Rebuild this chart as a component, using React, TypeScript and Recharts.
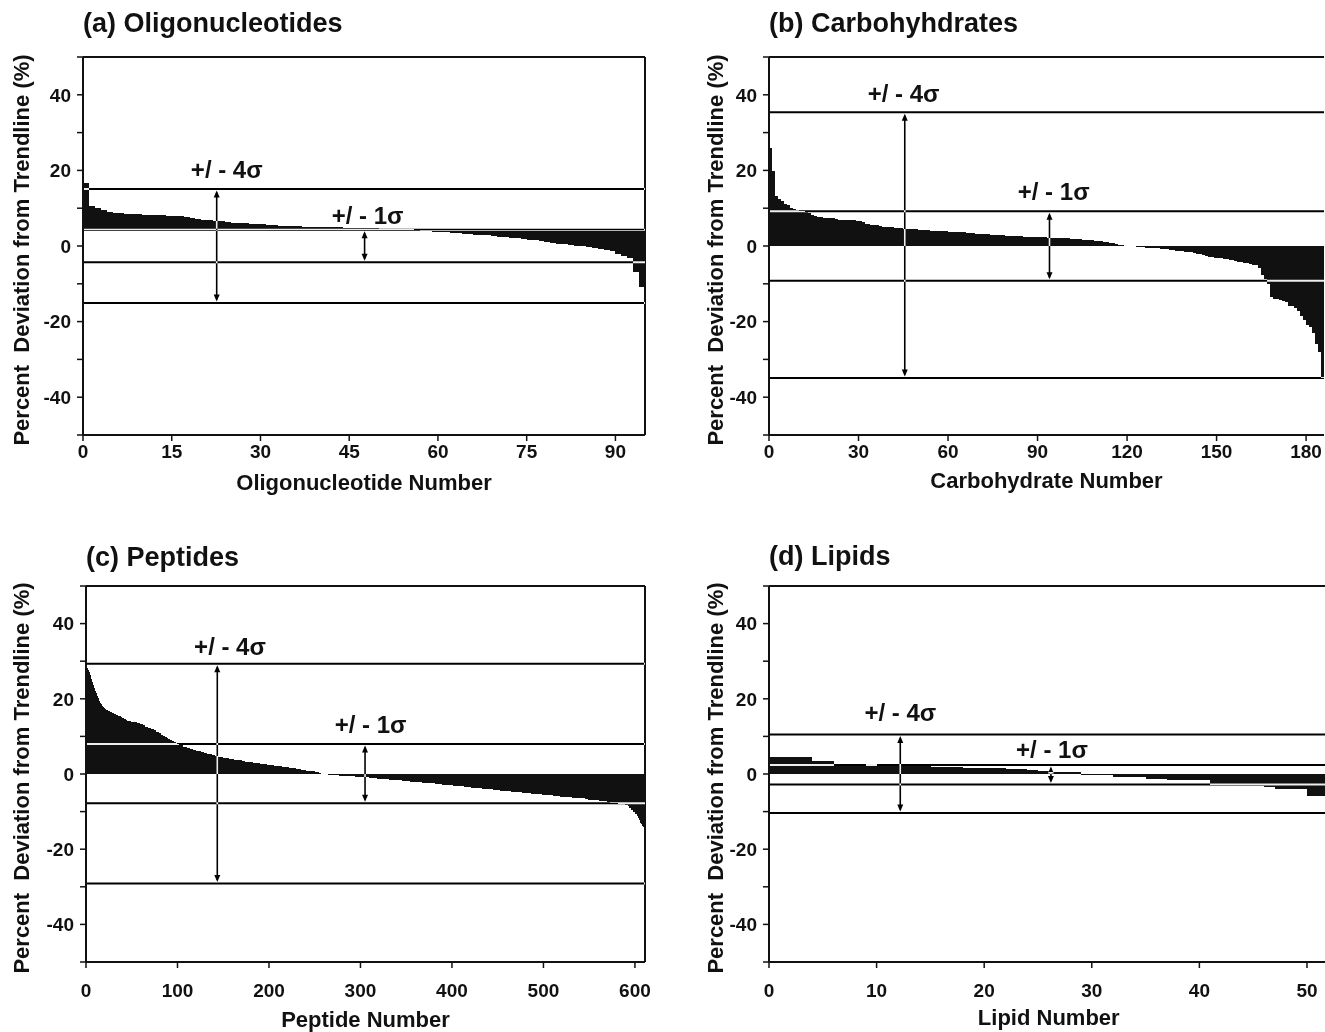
import React from "react";
import { BarChart, Bar, XAxis, YAxis, ReferenceLine, ReferenceDot } from "recharts";

const FONT = '"Liberation Sans", Arial, Helvetica, sans-serif';
const INK = "#111";

const Y_TICKS = [-50, -40, -30, -20, -10, 0, 10, 20, 30, 40, 50];

// (a) oligonucleotides, sorted deviation from trendline (%)
const OLIGO_VALUES = [
  16.6, 10.5, 10.0, 9.4, 9.1, 8.8, 8.6, 8.5, 8.5, 8.4,
  8.2, 8.2, 8.1, 8.1, 8.0, 8.0, 7.9, 7.6, 7.4, 7.2,
  7.0, 6.8, 6.6, 6.5, 6.4, 6.2, 6.1, 6.0, 5.9, 5.8,
  5.7, 5.6, 5.5, 5.4, 5.3, 5.2, 5.2, 5.1, 5.1, 5.0,
  5.0, 4.9, 4.9, 4.9, 4.8, 4.8, 4.8, 4.7, 4.7, 4.7,
  4.6, 4.6, 4.5, 4.5, 4.4, 4.4, 4.2, 4.1, 3.9, 3.8,
  3.7, 3.6, 3.5, 3.4, 3.2, 3.1, 3.0, 2.9, 2.8, 2.6,
  2.5, 2.4, 2.2, 2.1, 1.9, 1.7, 1.5, 1.3, 1.0, 0.8,
  0.6, 0.4, 0.2, 0.0, -0.1, -0.3, -0.5, -0.7, -1.0, -1.4,
  -2.0, -2.6, -3.1, -6.9, -10.9,
];
const OLIGO_BASE = 4.3; // bars in (a) hang from the +1 sigma line
const OLIGO_SIGMA = [15.1, 4.3, -4.3, -15.1];
const OLIGO_TICKS = [0, 15, 30, 45, 60, 75, 90];

// (b) carbohydrates
const CARB_VALUES = [
  25.8, 19.8, 13.1, 12.4, 12.0, 11.2, 10.9, 10.0, 9.8, 9.5,
  9.3, 9.2, 9.0, 8.6, 8.3, 7.9, 7.7, 7.6, 7.4, 7.4,
  7.3, 7.3, 7.1, 7.0, 7.0, 7.0, 6.9, 6.9, 6.8, 6.6,
  6.5, 6.3, 5.9, 5.7, 5.6, 5.6, 5.5, 5.4, 5.1, 5.0,
  4.9, 4.9, 4.8, 4.8, 4.7, 4.6, 4.5, 4.5, 4.4, 4.4,
  4.3, 4.3, 4.2, 4.2, 4.1, 4.1, 4.0, 4.0, 3.9, 3.9,
  3.8, 3.8, 3.7, 3.7, 3.6, 3.6, 3.5, 3.5, 3.4, 3.3,
  3.3, 3.2, 3.1, 3.1, 3.0, 2.9, 2.9, 2.8, 2.8, 2.7,
  2.7, 2.7, 2.6, 2.6, 2.6, 2.5, 2.5, 2.5, 2.4, 2.4,
  2.4, 2.3, 2.3, 2.2, 2.2, 2.1, 2.1, 2.1, 2.0, 2.0,
  2.0, 1.9, 1.9, 1.8, 1.8, 1.7, 1.7, 1.6, 1.5, 1.4,
  1.3, 1.2, 1.1, 1.0, 0.9, 0.7, 0.5, 0.3, 0.2, 0.1,
  0.05, 0, -0.1, -0.2, -0.3, -0.3, -0.4, -0.4, -0.5, -0.5,
  -0.6, -0.7, -0.8, -0.9, -1.0, -1.1, -1.2, -1.3, -1.4, -1.5,
  -1.6, -1.7, -1.8, -2.0, -2.2, -2.4, -2.6, -2.8, -3.0, -3.1,
  -3.2, -3.3, -3.4, -3.5, -3.6, -3.8, -4.0, -4.2, -4.3, -4.5,
  -4.6, -4.8, -4.9, -5.0, -5.8, -7.8, -8.7, -10.0, -13.6, -14.0,
  -14.1, -14.3, -14.5, -14.9, -15.8, -16.0, -16.3, -17.1, -18.5, -19.7,
  -21.0, -21.5, -22.9, -26.0, -28.0, -34.8,
];
const CARB_SIGMA = [35.4, 9.2, -9.2, -34.9];
const CARB_TICKS = [0, 30, 60, 90, 120, 150, 180];

// (c) peptides: first bars one by one, then runs of [value, count]
const PEPTIDE_HEAD = [
  28.8, 28.2, 27.6, 27.0, 26.4, 25.8, 25.2, 24.6, 23.8, 23.0,
  22.2, 21.5, 20.8, 20.1, 19.5, 18.9, 18.6, 18.3, 18.0, 17.8,
  17.5, 17.3, 17.1, 17.0, 16.8, 16.7, 16.6, 16.4, 16.3, 16.2,
  16.1, 16.0, 15.9, 15.8, 15.7, 15.5, 15.4, 15.3, 15.1, 15.0,
  14.9, 14.8, 14.6, 14.5, 14.4, 14.2, 14.1, 14.0, 14.0, 13.9,
  13.9, 13.8, 13.8, 13.7, 13.7, 13.7, 13.6, 13.6, 13.5,
];
const PEPTIDE_RUNS: [number, number][] = [
  [13.3, 3], [13.0, 3], [12.6, 3], [12.2, 3], [11.9, 3], [11.6, 2], [11.3, 2],
  [11.1, 2], [10.8, 2], [10.5, 2], [10.2, 2], [9.9, 2], [9.6, 2], [9.3, 2], [9.0, 2], [8.7, 2],
  [8.4, 2], [8.2, 2], [8.0, 2], [7.8, 2], [7.6, 2], [7.3, 2], [7.1, 2], [6.9, 1],
  [6.8, 3], [6.6, 3], [6.4, 3], [6.2, 3], [6.0, 3], [5.8, 3], [5.6, 3], [5.4, 3], [5.2, 3], [5.0, 3], [4.8, 3],
  [4.5, 3], [4.4, 3], [4.3, 3], [4.2, 3], [4.0, 3], [3.9, 3],
  [3.7, 4], [3.6, 4], [3.4, 4], [3.3, 4], [3.2, 4], [3.0, 4], [2.9, 4], [2.7, 4], [2.6, 4],
  [2.4, 4], [2.3, 4], [2.1, 4], [2.0, 4], [1.9, 4], [1.8, 4], [1.6, 4], [1.5, 4], [1.4, 3], [1.3, 2],
  [1.1, 3], [1.0, 3], [0.9, 3], [0.8, 3], [0.7, 3], [0.5, 3], [0.4, 2], [0.3, 2],
  [0.1, 3], [-0.05, 4],
  [-0.2, 6], [-0.3, 6], [-0.4, 6], [-0.5, 6], [-0.6, 6], [-0.7, 5], [-0.8, 5],
  [-0.9, 5], [-1.0, 4], [-1.1, 5], [-1.2, 4], [-1.3, 5], [-1.4, 4], [-1.5, 5], [-1.6, 4], [-1.7, 5],
  [-1.8, 4], [-1.9, 5], [-2.0, 4], [-2.1, 5], [-2.2, 4], [-2.3, 5], [-2.4, 4], [-2.5, 5], [-2.6, 4],
  [-2.7, 4], [-2.8, 4], [-2.9, 4], [-3.0, 4], [-3.1, 4], [-3.2, 4], [-3.3, 4],
  [-3.4, 4], [-3.5, 4], [-3.6, 4], [-3.7, 4], [-3.8, 4], [-3.9, 4], [-4.0, 4], [-4.1, 4], [-4.2, 4],
  [-4.3, 4], [-4.4, 4], [-4.5, 4], [-4.6, 4], [-4.7, 4], [-4.8, 4], [-4.9, 4], [-5.0, 4], [-5.1, 5],
  [-5.2, 4], [-5.3, 4], [-5.4, 4], [-5.5, 4], [-5.6, 4], [-5.7, 4], [-5.8, 4], [-5.9, 4], [-6.0, 4],
  [-6.1, 4], [-6.2, 5], [-6.3, 5], [-6.4, 5],
  [-6.5, 4], [-6.6, 4], [-6.8, 4], [-6.9, 4], [-7.0, 4], [-7.2, 4], [-7.3, 4], [-7.5, 4], [-7.7, 4],
  [-7.8, 4], [-7.9, 4], [-8.0, 4], [-8.2, 3],
  [-8.6, 2], [-9.0, 2], [-9.5, 2], [-10.0, 2], [-10.6, 2], [-11.3, 1],
  [-11.8, 1], [-12.2, 1], [-12.6, 1], [-13.0, 1], [-13.4, 1], [-13.8, 1], [-14.1, 1], [-14.4, 1],
];
const PEPTIDE_VALUES = [
  ...PEPTIDE_HEAD,
  ...PEPTIDE_RUNS.flatMap(([v, n]) => Array(n).fill(v) as number[]),
];
const PEPTIDE_SIGMA = [29.3, 8.0, -7.8, -29.1];
const PEPTIDE_TICKS = [0, 100, 200, 300, 400, 500, 600];

// (d) lipids
const LIPID_VALUES = [
  4.5, 4.5, 4.5, 4.5, 3.5, 3.5, 2.0, 2.0, 2.0, 2.7,
  2.1, 2.1, 2.0, 2.0, 2.0, 1.9, 1.9, 1.8, 1.6, 1.5,
  1.5, 1.5, 1.4, 1.2, 1.0, 0.9, 0.6, 0.5, 0.4, -0.2,
  -0.2, -0.3, -0.8, -0.8, -0.8, -1.2, -1.2, -1.5, -1.5, -1.5,
  -1.5, -2.8, -2.8, -2.8, -3.0, -3.0, -3.5, -4.0, -4.0, -4.0,
  -5.9, -5.9,
];
const LIPID_SIGMA = [10.5, 2.4, -2.8, -10.4];
const LIPID_TICKS = [0, 10, 20, 30, 40, 50];

// white strokes with "difference" blending: black on paper, white over the bars
const sigmaLine = (p: any) => (
  <line x1={p.x1} y1={p.y1} x2={p.x2} y2={p.y2} stroke="#fff" strokeWidth={2}
    style={{ mixBlendMode: "difference" }} />
);

const arrowShape = (p: any) => {
  const x = p.x1;
  const top = Math.min(p.y1, p.y2) + 1.5;
  const bot = Math.max(p.y1, p.y2) - 1.5;
  const h = 7;
  const w = 3;
  return (
    <g style={{ mixBlendMode: "difference" }}>
      <line x1={x} x2={x} y1={top + 2} y2={bot - 2} stroke="#fff" strokeWidth={1.6} />
      <path d={`M${x},${top} L${x - w},${top + h} L${x + w},${top + h} Z`} fill="#fff" />
      <path d={`M${x},${bot} L${x - w},${bot - h} L${x + w},${bot - h} Z`} fill="#fff" />
    </g>
  );
};

const sigmaText = (label: string) => (p: any) => (
  <text x={p.cx} y={p.cy} textAnchor="middle" fontFamily={FONT} fontWeight={700}
    fontSize={24} fill={INK}>
    {label}
  </text>
);

type PanelProps = {
  title: string;
  xLabel: string;
  values: number[];
  base: number;
  sigma: number[];
  ticks: number[];
  left: number;
  top: number;
  width: number;
  height: number;
  closedRight: boolean;
  titleBaseline: number;
  xLabelBaseline: number;
  yLabelX: number;
  tickGap: number;
  arrow4: number;
  arrow1: number;
  text4: [number, number];
  text1: [number, number];
};

function Panel(props: PanelProps) {
  const { values, base, sigma, ticks, left, top, width, height } = props;
  const n = values.length;
  const rows = values.map((v, i) => ({ idx: i, range: [base, v] }));
  const axisLine = { stroke: INK, strokeWidth: 2 };
  const tickLine = { stroke: INK, strokeWidth: 1.5 };
  const tick = { fill: INK, fontSize: 19, fontWeight: 700, fontFamily: FONT };
  const YW = 70;
  const MT = 10;
  const XH = 50;

  return (
    <>
      <div style={{ position: "absolute", left, top: props.titleBaseline - 23, fontSize: 27,
        lineHeight: "27px", fontWeight: 700, whiteSpace: "nowrap", color: INK }}>
        {props.title}
      </div>
      <div style={{ position: "absolute", left: props.yLabelX, top: top + height / 2 + 4,
        transform: "translate(-50%, -50%) rotate(-90deg)", fontSize: 22, lineHeight: "22px",
        fontWeight: 700, whiteSpace: "nowrap", color: INK }}>
        Percent&nbsp; Deviation from Trendline (%)
      </div>
      <div style={{ position: "absolute", left: left + width / 2, top: props.xLabelBaseline - 18.6,
        transform: "translateX(-50%)", fontSize: 22, lineHeight: "22px", fontWeight: 700,
        whiteSpace: "nowrap", color: INK }}>
        {props.xLabel}
      </div>
      <div style={{ position: "absolute", left: left - YW, top: top - MT }}>
        <BarChart width={YW + width + 10} height={MT + height + XH} data={rows}
          margin={{ top: MT, right: 10, left: 0, bottom: 0 }} barCategoryGap={0} barGap={0}>
          <XAxis xAxisId="cat" dataKey="idx" type="category" hide height={0} />
          <XAxis xAxisId="num" dataKey="idx" type="number" domain={[0, n]} ticks={ticks}
            allowDataOverflow interval={0} height={XH} tick={tick} tickSize={6}
            tickMargin={props.tickGap} axisLine={axisLine} tickLine={tickLine} />
          <YAxis type="number" domain={[-50, 50]} ticks={Y_TICKS} interval={0} width={YW}
            tickFormatter={(v: number) => (v % 20 === 0 && Math.abs(v) < 50 ? String(v) : "")}
            tick={tick} tickSize={6} tickMargin={6} axisLine={axisLine} tickLine={tickLine} />
          <Bar xAxisId="cat" dataKey="range" fill={INK} isAnimationActive={false}
            shapeRendering="crispEdges" />
          <ReferenceLine xAxisId="num" y={50} stroke={INK} strokeWidth={2} ifOverflow="visible" />
          {props.closedRight && (
            <ReferenceLine xAxisId="num" x={n} stroke={INK} strokeWidth={2} ifOverflow="visible" />
          )}
          {sigma.map((s, i) => (
            <ReferenceLine key={i} xAxisId="num" y={s} shape={sigmaLine} />
          ))}
          <ReferenceLine xAxisId="num" segment={[{ x: props.arrow4, y: sigma[0] }, { x: props.arrow4, y: sigma[3] }]}
            shape={arrowShape} />
          <ReferenceLine xAxisId="num" segment={[{ x: props.arrow1, y: sigma[1] }, { x: props.arrow1, y: sigma[2] }]}
            shape={arrowShape} />
          <ReferenceDot xAxisId="num" x={props.text4[0]} y={props.text4[1]} r={0}
            shape={sigmaText("+/ - 4\u03c3")} />
          <ReferenceDot xAxisId="num" x={props.text1[0]} y={props.text1[1]} r={0}
            shape={sigmaText("+/ - 1\u03c3")} />
        </BarChart>
      </div>
    </>
  );
}

export default function App() {
  return (
    <div style={{ position: "absolute", left: 0, top: 0, width: 1325, height: 1032, overflow: "hidden",
      background: "#fff", fontFamily: FONT }}>
      <Panel title="(a) Oligonucleotides" xLabel="Oligonucleotide Number" values={OLIGO_VALUES}
        base={OLIGO_BASE} sigma={OLIGO_SIGMA} ticks={OLIGO_TICKS}
        left={83} top={57} width={562} height={378} closedRight
        titleBaseline={33} xLabelBaseline={491} yLabelX={22} tickGap={4}
        arrow4={22.6} arrow1={47.6} text4={[24.3, 17.9]} text1={[48.1, 5.7]} />
      <Panel title="(b) Carbohyhdrates" xLabel="Carbohydrate Number" values={CARB_VALUES}
        base={0} sigma={CARB_SIGMA} ticks={CARB_TICKS}
        left={769} top={57} width={555} height={378} closedRight={false}
        titleBaseline={33} xLabelBaseline={489} yLabelX={716} tickGap={4}
        arrow4={45.5} arrow1={94} text4={[45.1, 38.1]} text1={[95.4, 12.3]} />
      <Panel title="(c) Peptides" xLabel="Peptide Number" values={PEPTIDE_VALUES}
        base={0} sigma={PEPTIDE_SIGMA} ticks={PEPTIDE_TICKS}
        left={86} top={586} width={559} height={376} closedRight
        titleBaseline={567} xLabelBaseline={1028} yLabelX={22} tickGap={16}
        arrow4={143.5} arrow1={305} text4={[157.4, 31.7]} text1={[311, 10.9]} />
      <Panel title="(d) Lipids" xLabel="Lipid Number" values={LIPID_VALUES}
        base={0} sigma={LIPID_SIGMA} ticks={LIPID_TICKS}
        left={769} top={586} width={559.5} height={376} closedRight
        titleBaseline={566} xLabelBaseline={1026} yLabelX={716} tickGap={16}
        arrow4={12.2} arrow1={26.2} text4={[12.2, 14.0]} text1={[26.3, 4.3]} />
    </div>
  );
}
